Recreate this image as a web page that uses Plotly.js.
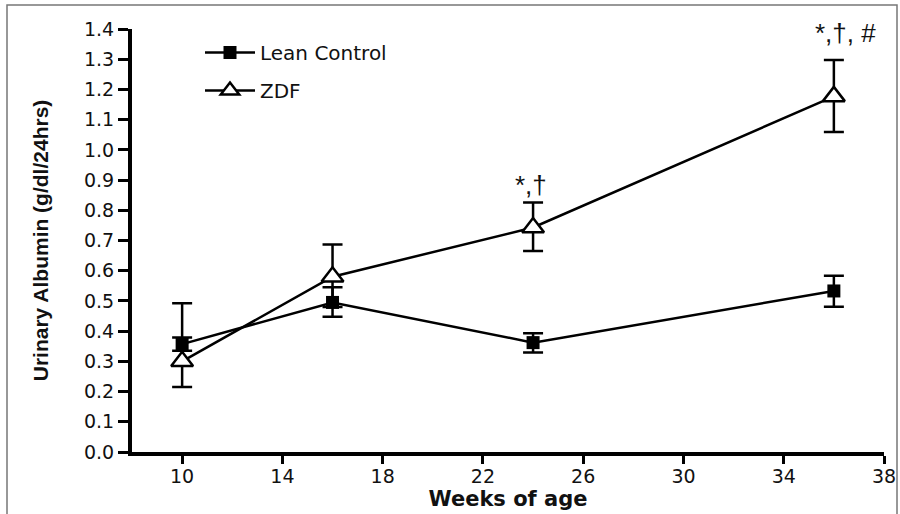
<!DOCTYPE html>
<html><head><meta charset="utf-8">
<script src="https://cdn.plot.ly/plotly-3.0.1.min.js"></script>
<style>html,body{margin:0;padding:0;background:#fff}#chart{width:900px;height:514px}</style>
</head><body><div id="chart"></div>
<script>
var weeks = [10, 16, 24, 36];
var leanMean = [0.357, 0.495, 0.362, 0.533];
var leanErrPlus = [0.022, 0.05, 0.031, 0.05];
var leanErrMinus = [0.022, 0.047, 0.033, 0.052];
var zdfMean = [0.300, 0.580, 0.743, 1.177];
var zdfErrPlus = [0.192, 0.107, 0.083, 0.12];
var zdfErrMinus = [0.085, 0.10, 0.078, 0.118];
var sigLabels = ["", "", "*,\u2020", "*,\u2020, #"];
var yTicks = [0, 0.1, 0.2, 0.3, 0.4, 0.5, 0.6, 0.7, 0.8, 0.9, 1.0, 1.1, 1.2, 1.3, 1.4];
var xTicks = [10, 14, 18, 22, 26, 30, 34, 38];

// styling offsets for the significance labels (px)
var sigXShift = [0, 0, -2, 12];
var sigYShift = [0, 0, 0, 10];

var lean = {
  x: weeks, y: leanMean, name: 'Lean Control', type: 'scatter', mode: 'lines+markers',
  legendgroup: 'a', cliponaxis: false,
  line: {color: '#000', width: 2.5},
  marker: {symbol: 'square', size: 13, color: '#000'},
  error_y: {type: 'data', array: leanErrPlus, arrayminus: leanErrMinus, symmetric: false,
            color: '#000', thickness: 2.5, width: 10}
};
var zdf = {
  x: weeks, y: zdfMean, name: 'ZDF', type: 'scatter', mode: 'lines+markers',
  legendgroup: 'b', cliponaxis: false,
  line: {color: '#000', width: 2.5},
  marker: {symbol: 'triangle-up', size: 19, color: '#fff', line: {color: '#000', width: 2.5}},
  error_y: {type: 'data', array: zdfErrPlus, arrayminus: zdfErrMinus, symmetric: false,
            color: '#000', thickness: 2.5, width: 10}
};

var annotations = [];
for (var i = 0; i < weeks.length; i++) {
  if (sigLabels[i]) {
    annotations.push({
      x: weeks[i], y: zdfMean[i] + zdfErrPlus[i], xref: 'x', yref: 'y',
      text: sigLabels[i], showarrow: false, yanchor: 'bottom',
      xshift: sigXShift[i], yshift: sigYShift[i],
      font: {family: 'Liberation Sans, Arial, sans-serif', size: 26, color: '#111'}
    });
  }
}

var W = 752, H = 423; // plot area size
var layout = {
  width: 900, height: 514,
  margin: {l: 132, r: 16, t: 29, b: 62},
  paper_bgcolor: '#fff', plot_bgcolor: '#fff',
  showlegend: true,
  legend: {x: (200 - 132) / W, y: 1 - (33 - 29) / H, xanchor: 'left', yanchor: 'top',
           bgcolor: 'rgba(0,0,0,0)', traceorder: 'grouped', tracegroupgap: 9, itemwidth: 50,
           font: {family: 'DejaVu Sans, sans-serif', size: 20, color: '#111'}},
  xaxis: {
    range: [8, 38], tickvals: xTicks, ticks: 'outside', ticklen: 8, tickwidth: 3, tickcolor: '#000',
    ticklabelstandoff: -4,
    showline: true, linecolor: '#000', linewidth: 4, showgrid: false, zeroline: false,
    tickfont: {family: 'DejaVu Sans, sans-serif', size: 19, color: '#111'},
    title: {text: '<b>Weeks of age</b>', standoff: 6,
            font: {family: 'DejaVu Sans, sans-serif', size: 21, color: '#111'}}
  },
  yaxis: {
    range: [0, 1.4], tickvals: yTicks, tickformat: '.1f', ticks: 'outside', ticklen: 10, tickwidth: 3,
    tickcolor: '#000', showline: true, linecolor: '#000', linewidth: 4, showgrid: false, zeroline: false,
    tickfont: {family: 'DejaVu Sans, sans-serif', size: 19, color: '#111'},
    title: {text: '<b>Urinary Albumin (g/dl/24hrs)</b>', standoff: 31,
            font: {family: 'Liberation Sans, Arial, sans-serif', size: 21, color: '#111'}}
  },
  annotations: annotations,
  shapes: [{type: 'rect', xref: 'paper', yref: 'paper', layer: 'below',
            x0: (7 - 132) / W, x1: (897 - 132) / W, y0: 1 - (530 - 29) / H, y1: 1 - (5 - 29) / H,
            line: {color: '#777', width: 1.5}}]
};

Plotly.newPlot('chart', [lean, zdf], layout, {displayModeBar: false, staticPlot: true});
</script></body></html>
